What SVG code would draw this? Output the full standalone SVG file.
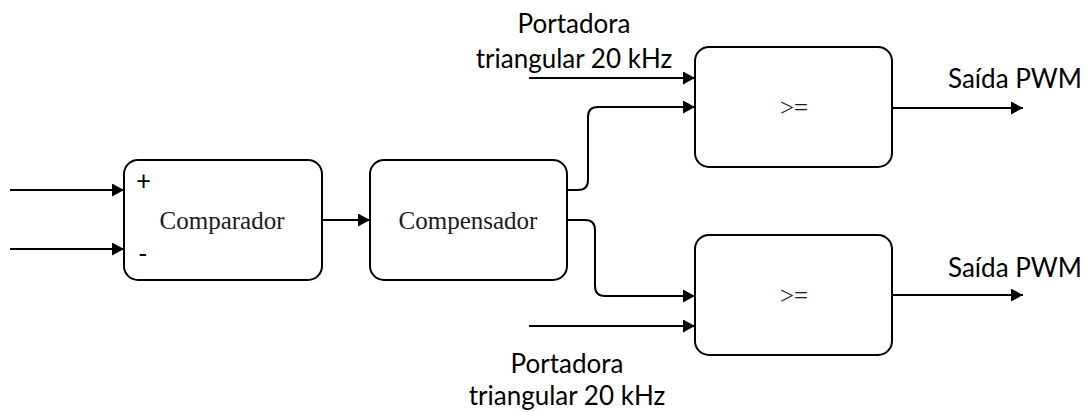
<svg xmlns="http://www.w3.org/2000/svg" width="1087" height="412" viewBox="0 0 1087 412">
<style>
.box{fill:#fff;stroke:#000;stroke-width:2}
.ln{fill:none;stroke:#000;stroke-width:2;marker-end:url(#ah)}
.serif{font-family:"Liberation Serif","Times New Roman",serif;font-size:25px;fill:#1a1a1a}
.sans{font-family:Lato,"Liberation Sans",sans-serif;font-size:26px;fill:#000}
</style>
<defs>
<marker id="ah" markerUnits="userSpaceOnUse" markerWidth="13" markerHeight="13" refX="12" refY="6.5" orient="auto">
<path d="M0,0 L12,6.5 L0,13 z" fill="#000"/>
</marker>
</defs>
<g id="comparador">
<rect class="box" x="124" y="160" width="198" height="120" rx="14"/>
<text class="serif" x="222" y="229" text-anchor="middle">Comparador</text>
<text class="sans" x="136" y="190" font-size="22">+</text>
<text class="sans" x="138" y="263" font-size="22">-</text>
</g>
<g id="compensador">
<rect class="box" x="370" y="160" width="197" height="120" rx="14"/>
<text class="serif" x="468" y="229" text-anchor="middle">Compensador</text>
</g>
<g id="cmp-top">
<rect class="box" x="695" y="47" width="197" height="120" rx="14"/>
<text class="serif" x="794" y="116" text-anchor="middle">&gt;=</text>
</g>
<g id="cmp-bottom">
<rect class="box" x="695" y="235" width="197" height="120" rx="14"/>
<text class="serif" x="794" y="304" text-anchor="middle">&gt;=</text>
</g>
<g id="labels">
<text class="sans" x="574" y="33" text-anchor="middle">Portadora</text>
<text class="sans" x="574" y="68" text-anchor="middle">triangular 20 kHz</text>
<text class="sans" x="567" y="373" text-anchor="middle">Portadora</text>
<text class="sans" x="567" y="405" text-anchor="middle">triangular 20 kHz</text>
<text class="sans" x="948" y="88">Saída PWM</text>
<text class="sans" x="948" y="277">Saída PWM</text>
</g>
<g id="connectors">
<path class="ln" d="M10,190 L124,190"/>
<path class="ln" d="M10,249 L124,249"/>
<path class="ln" d="M322,220 L370,220"/>
<path class="ln" d="M567,190 L578,190 Q588,190 588,180 L588,117 Q588,107 598,107 L695,107"/>
<path class="ln" d="M567,220 L585,220 Q595,220 595,230 L595,286 Q595,296 605,296 L695,296"/>
<path class="ln" d="M529,78 L695,78"/>
<path class="ln" d="M529,326 L695,326"/>
<path class="ln" d="M892,108 L1023,108"/>
<path class="ln" d="M892,295 L1023,295"/>
</g>
</svg>
